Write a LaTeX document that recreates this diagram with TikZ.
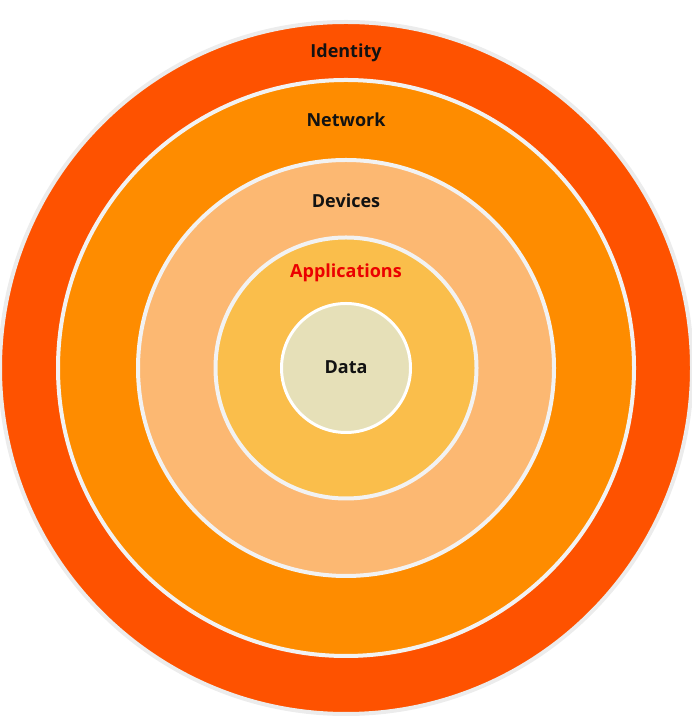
\documentclass[tikz,border=0pt]{standalone}
\usepackage{fontspec}
\setmainfont{Open Sans}
\usepackage{tikz}
\usepackage{xcolor}
\usetikzlibrary{
    positioning
}
\definecolor{identitycol}{HTML}{FE5200}
\definecolor{networkcol}{HTML}{FE8C00}
\definecolor{devicescol}{HTML}{FCB872}
\definecolor{appscol}{HTML}{FABE4B}
\definecolor{datacol}{HTML}{E6E0B8}
\definecolor{ringline}{HTML}{F2F2F2}
\definecolor{rimline}{HTML}{ECECEC}
\tikzset{
    ring/.style={circle, inner sep=0pt, draw=ringline, line width=4pt},
    ringtext/.style={anchor=base, inner sep=0pt, font=\bfseries\fontsize{18}{20}\selectfont, text=black!93}
}

\begin{document}
\begin{tikzpicture}[x=1pt, y=1pt]
                        \useasboundingbox (0, 0) rectangle (692, 727);
                        \node[ring, draw=rimline, fill=identitycol, minimum size=692] (identity) at (346, 359) {};
                        \node[ring, fill=networkcol, minimum size=576] (network) at (346, 359) {};
                        \node[ring, fill=devicescol, minimum size=416] (devices) at (346, 359) {};
                        \node[ring, fill=appscol, minimum size=261] (apps) at (346, 359) {};
                        \node[ring, draw=white, line width=3pt, fill=datacol, minimum size=129] (data) at (346, 359) {};
                        \node[ringtext] (identitytext) at (346, 669.5) {Identity};
                        \node[ringtext] (networktext) at (346, 600) {Network};
                        \node[ringtext] (devicestext) at (346, 519) {Devices};
                        \node[ringtext, text=red!92!black] (appstext) at (346, 449) {Applications};
                        \node[ringtext] (datatext) at (346, 353) {Data};
                    \end{tikzpicture}
\end{document}
